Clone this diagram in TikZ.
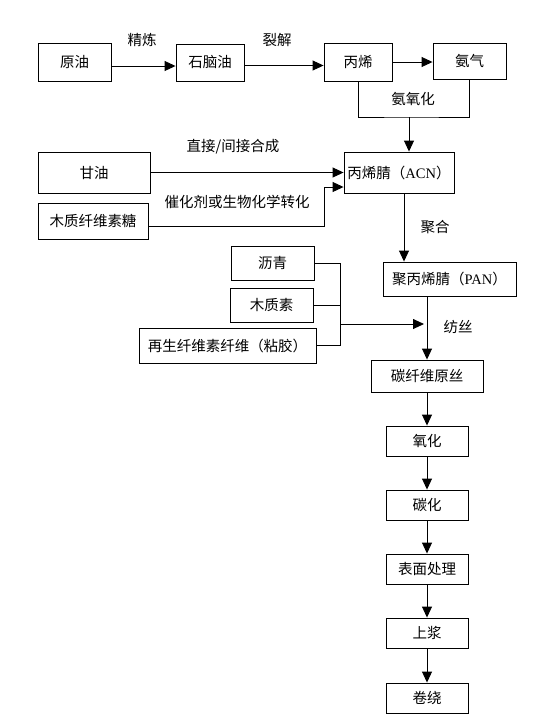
\documentclass[tikz,border=0pt]{standalone}
\usepackage{fontspec}
\setmainfont{Liberation Serif}
\newfontfamily\cjk{Noto Sans CJK SC}
\usetikzlibrary{arrows.meta}
\tikzset{
  box/.style={draw,line width=0.9pt,inner sep=0pt,minimum width=#1},
  box/.default=82pt,
  lbl/.style={inner sep=0pt},
  flow/.style={line width=0.9pt,-{Triangle[length=11pt,width=10pt]}},
  link/.style={line width=0.9pt}
}
\begin{document}
\begin{tikzpicture}[x=1pt,y=-1pt,font=\cjk\fontsize{14.5}{17}\selectfont]
\useasboundingbox (0,0) rectangle (550,724);
% top row
\node[box=73pt,minimum height=38pt] (crude) at (74.5,62) {原油};
\node[box=68pt,minimum height=37pt] (naphtha) at (210,62.5) {石脑油};
\node[box=68pt,minimum height=38pt] (propene) at (358,62) {丙烯};
\node[box=73pt,minimum height=36pt] (ammonia) at (469.5,61) {氨气};
\coordinate (c1) at ([yshift=-4pt]crude.east);
\coordinate (c2) at ([yshift=-3pt]naphtha.east);
\draw[flow] (c1) -- (c1 -| naphtha.west);
\draw[flow] (c2) -- (c2 -| propene.west);
\draw[flow] (propene.east) -- (propene.east -| ammonia.west);
\node[lbl] (refine) at (142,40) {精炼};
\node[lbl] (crack) at (277,40) {裂解};
% ammoxidation
\coordinate (join) at (409,117);
\draw[link] (propene.south) |- (join) -| (ammonia.south);
\node[lbl] (ammox) at (413,99) {氨氧化};
\node[box=110pt,minimum height=41pt] (acn) at (399,172.5) {丙烯腈（{\rmfamily ACN}）};
\draw[flow] (join) -- (join |- acn.north);
% other sources
\node[box=112pt,minimum height=41pt] (glycerol) at (94,172.5) {甘油};
\node[box=110pt,minimum height=36pt] (sugar) at (93,221) {木质纤维素糖};
\coordinate (bend) at (324,187);
\draw[flow] (glycerol.east) -- (glycerol.east -| acn.west);
\draw[flow] ([yshift=-5pt]sugar.east) -| (bend) -- (bend -| acn.west);
\node[lbl] (synth) at (233,147) {直接/间接合成};
\node[lbl] (convert) at (237,202) {催化剂或生物化学转化};
% polymerisation
\node[box=133pt,minimum height=34pt] (pan) at (449.5,279) {聚丙烯腈（{\rmfamily PAN}）};
\coordinate (polyA) at (404,193);
\draw[flow] (polyA) -- (polyA |- pan.north);
\node[lbl] (poly) at (435,227) {聚合};
% spinning
\node[box=83pt,minimum height=34pt] (pitch) at (272.5,263) {沥青};
\node[box=83pt,minimum height=34pt] (lignin) at (271.5,305) {木质素};
\node[box=177pt,minimum height=35pt] (viscose) at (227.5,345.5) {再生纤维素纤维（粘胶）};
\node[box=112pt,minimum height=32pt] (precursor) at (427,376) {碳纤维原丝};
\coordinate (merge) at (340,324);
\draw[link] (pitch.east) -| (merge);
\draw[link] (lignin.east) -- (lignin.east -| merge);
\draw[link] (viscose.east) -| (merge);
\draw[flow] (merge) -- ([xshift=-3pt]merge -| precursor.north);
\draw[flow] (precursor.north |- pan.south) -- (precursor.north);
\node[lbl] (spin) at (458,327) {纺丝};
% processing chain
\node[box=82pt,minimum height=30pt] (oxid) at (427,441) {氧化};
\node[box=82pt,minimum height=30pt] (carb) at (427,505) {碳化};
\node[box=82pt,minimum height=30pt] (surface) at (427,569) {表面处理};
\node[box=82pt,minimum height=30pt] (sizing) at (427,633) {上浆};
\node[box=82pt,minimum height=30pt] (winding) at (427,698) {卷绕};
\foreach \a/\b in {precursor/oxid,oxid/carb,carb/surface,surface/sizing,sizing/winding}
  \draw[flow] (\a) -- (\b);
\end{tikzpicture}
\end{document}
